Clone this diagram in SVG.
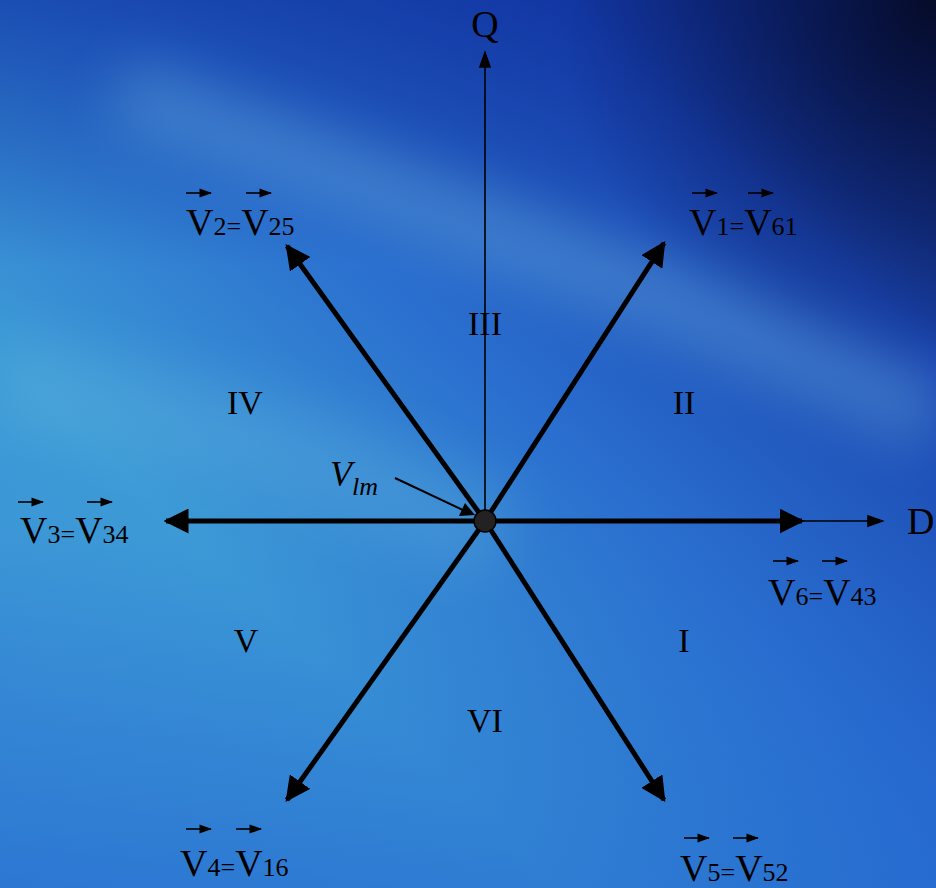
<svg xmlns="http://www.w3.org/2000/svg" width="936" height="888" viewBox="0 0 936 888">
<defs>
<linearGradient id="bg" x1="0" y1="1" x2="1" y2="0">
<stop offset="0" stop-color="#3a8fd6"/>
<stop offset="0.3" stop-color="#3d9ad6"/>
<stop offset="0.55" stop-color="#2a6fcf"/>
<stop offset="0.8" stop-color="#1a45b0"/>
<stop offset="1" stop-color="#0a1440"/>
</linearGradient>
<radialGradient id="corner" cx="936" cy="0" r="380" gradientUnits="userSpaceOnUse">
<stop offset="0" stop-color="#050a25" stop-opacity="0.95"/>
<stop offset="1" stop-color="#0a1a60" stop-opacity="0"/>
</radialGradient>
<linearGradient id="top" x1="0" y1="0" x2="0" y2="1">
<stop offset="0" stop-color="#0c2c9a" stop-opacity="0.55"/>
<stop offset="0.3" stop-color="#0c2c9a" stop-opacity="0"/>
</linearGradient>
<linearGradient id="bot" x1="0" y1="0" x2="0" y2="1">
<stop offset="0.6" stop-color="#1f5fd0" stop-opacity="0"/>
<stop offset="1" stop-color="#1f5fd0" stop-opacity="0.5"/>
</linearGradient>
<filter id="blur" x="-50%" y="-50%" width="200%" height="200%"><feGaussianBlur stdDeviation="28"/></filter>
<marker id="hd" viewBox="0 0 10 10" refX="9" refY="5" markerWidth="5" markerHeight="5" orient="auto" markerUnits="strokeWidth">
<path d="M0,0 L10,5 L0,10 z" fill="#000"/>
</marker>
<marker id="ht" viewBox="0 0 10 10" refX="9" refY="5" markerWidth="11" markerHeight="11" orient="auto" markerUnits="strokeWidth">
<path d="M0,1.5 L10,5 L0,8.5 z" fill="#000"/>
</marker>
<marker id="hs" viewBox="0 0 10 10" refX="9" refY="5" markerWidth="8" markerHeight="8" orient="auto" markerUnits="strokeWidth">
<path d="M0,1.5 L10,5 L0,8.5 z" fill="#000"/>
</marker>
<style>
.v{stroke:#000;stroke-width:5;fill:none;marker-end:url(#hd)}
.t{stroke:#000;stroke-width:1.6;fill:none;marker-end:url(#ht)}
.sa{stroke:#000;stroke-width:1.6;fill:none;marker-end:url(#hs)}
text{font-family:"Liberation Serif","Times New Roman",serif;fill:#000}
.big{font-size:38px}
.sub{font-size:26px}
.rn{font-size:34px;text-anchor:middle}
</style>
</defs>
<g id="background">
<rect width="936" height="888" fill="url(#bg)"/>
<rect width="936" height="888" fill="url(#bot)"/>
<rect width="936" height="888" fill="url(#top)"/>
<rect width="936" height="888" fill="url(#corner)"/>
<path d="M120,90 C320,170 600,260 936,420" stroke="#7ec6e6" stroke-width="70" fill="none" opacity="0.3" filter="url(#blur)"/>
<path d="M0,380 C200,420 350,460 500,540" stroke="#6cc0e0" stroke-width="90" fill="none" opacity="0.25" filter="url(#blur)"/>
</g>
<g id="connectors">
<line class="t" x1="485" y1="521" x2="485" y2="52"/>
<line class="t" x1="485" y1="521" x2="883" y2="521"/>
<line class="v" x1="485" y1="521" x2="664" y2="243"/>
<line class="v" x1="485" y1="521" x2="287" y2="246"/>
<line class="v" x1="485" y1="521" x2="166" y2="521"/>
<line class="v" x1="485" y1="521" x2="802" y2="521"/>
<line class="v" x1="485" y1="521" x2="287" y2="800"/>
<line class="v" x1="485" y1="521" x2="664" y2="800"/>
<line stroke="#000" stroke-width="2" x1="395" y1="478" x2="465" y2="511"/>
<path d="M475,515 L459,516 L465,503 z" fill="#000"/>
</g>
<g id="center"><circle cx="485" cy="521" r="11" fill="#222" stroke="#000" stroke-width="1.5"/></g>
<g id="axis-Q"><text class="big" x="485" y="37" text-anchor="middle">Q</text></g>
<g id="axis-D"><text class="big" x="907" y="534">D</text></g>
<g id="sectors">
<text class="rn" x="485" y="335">III</text>
<text class="rn" x="245" y="414">IV</text>
<text class="rn" x="684" y="414">II</text>
<text class="rn" x="246" y="652">V</text>
<text class="rn" x="684" y="652">I</text>
<text class="rn" x="485" y="732">VI</text>
</g>
<g id="vlm"><text x="330" y="486" font-style="italic"><tspan font-size="36">V</tspan><tspan font-size="26" dy="9">lm</tspan></text></g>
<g id="label-V1">
<text x="689" y="235"><tspan class="big">V</tspan><tspan class="sub">1=</tspan><tspan class="big">V</tspan><tspan class="sub">61</tspan></text>
<line class="sa" x1="692" y1="193" x2="717" y2="193"/><line class="sa" x1="748" y1="193" x2="773" y2="193"/>
</g>
<g id="label-V2">
<text x="186" y="235"><tspan class="big">V</tspan><tspan class="sub">2=</tspan><tspan class="big">V</tspan><tspan class="sub">25</tspan></text>
<line class="sa" x1="186" y1="193" x2="211" y2="193"/><line class="sa" x1="246" y1="193" x2="271" y2="193"/>
</g>
<g id="label-V3">
<text x="20" y="543"><tspan class="big">V</tspan><tspan class="sub">3=</tspan><tspan class="big">V</tspan><tspan class="sub">34</tspan></text>
<line class="sa" x1="18" y1="502" x2="43" y2="502"/><line class="sa" x1="87" y1="502" x2="112" y2="502"/>
</g>
<g id="label-V6">
<text x="768" y="605"><tspan class="big">V</tspan><tspan class="sub">6=</tspan><tspan class="big">V</tspan><tspan class="sub">43</tspan></text>
<line class="sa" x1="773" y1="561" x2="798" y2="561"/><line class="sa" x1="822" y1="561" x2="847" y2="561"/>
</g>
<g id="label-V4">
<text x="180" y="876"><tspan class="big">V</tspan><tspan class="sub">4=</tspan><tspan class="big">V</tspan><tspan class="sub">16</tspan></text>
<line class="sa" x1="186" y1="829" x2="211" y2="829"/><line class="sa" x1="236" y1="829" x2="261" y2="829"/>
</g>
<g id="label-V5">
<text x="680" y="881"><tspan class="big">V</tspan><tspan class="sub">5=</tspan><tspan class="big">V</tspan><tspan class="sub">52</tspan></text>
<line class="sa" x1="684" y1="838" x2="709" y2="838"/><line class="sa" x1="733" y1="838" x2="758" y2="838"/>
</g>
</svg>
